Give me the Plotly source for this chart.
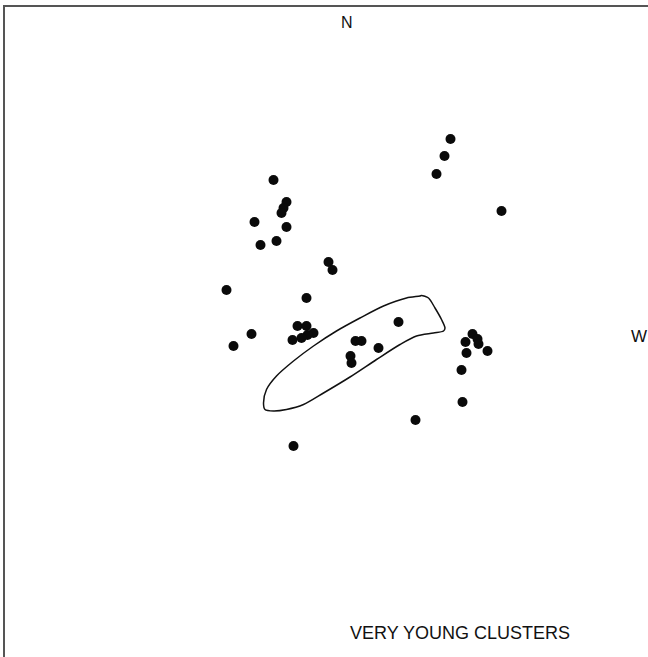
import plotly.graph_objects as go

# Cluster positions (arbitrary sky units, x grows toward W, y toward N)
cluster_x = [-5.3, -4.0, -4.3, -4.5, -7.2, -4.0, -6.6, -5.0, 0.2, 0.6,
             -10.0, -2.0, -7.5, -9.3, -2.9, -2.0, -1.3, -1.9, -2.5, -3.4,
             7.2, 2.9, 3.5, 5.2, 2.4, 2.5, 14.6, 15.1, 15.2, 13.9,
             16.1, 14.0, 13.5, 13.6, 12.4, 11.8, 11.0, 17.5, 8.9, -3.3]
cluster_y = [15.2, 13.0, 12.4, 11.9, 11.0, 10.5, 8.7, 9.1, 7.0, 6.2,
             4.2, 3.4, -0.2, -1.4, 0.6, 0.6, -0.1, -0.3, -0.6, -0.8,
             1.0, -0.9, -0.9, -1.6, -2.4, -3.1, -0.2, -0.7, -1.2, -1.0,
             -1.9, -2.1, -3.8, -7.0, 19.3, 17.6, 15.8, 12.1, -8.8, -11.4]

# Outline of the elongated region
outline_x = [9.5, 10.2, 10.85, 11.5, 11.85, 11.7, 10.7, 9.0, 7.35, 5.0,
             2.35, -0.3, -2.3, -4.0, -5.3, -6.15, -6.3, -6.0, -5.0, -3.3,
             -1.3, 1.0, 3.35, 5.7, 8.0, 9.35, 9.5]
outline_y = [3.65, 3.4, 2.4, 1.25, 0.4, 0.1, -0.1, -0.4, -1.25, -2.75,
             -4.5, -6.1, -7.25, -7.75, -7.9, -7.75, -7.1, -5.75, -4.4, -2.9,
             -1.4, 0.1, 1.4, 2.6, 3.4, 3.6, 3.65]

X_RANGE = [-32.15, 32.15]
Y_RANGE = [-32.5, 32.5]

fig = go.Figure()
fig.add_trace(go.Scatter(
    x=outline_x, y=outline_y, mode="lines",
    line=dict(color="#111111", width=1.5, shape="spline", smoothing=0.8),
    hoverinfo="skip", showlegend=False,
))
fig.add_trace(go.Scatter(
    x=cluster_x, y=cluster_y, mode="markers",
    marker=dict(color="#0a0a0a", size=10, line=dict(width=0)),
    showlegend=False,
))

font = "Liberation Sans, Arial, Helvetica, sans-serif"
fig.add_annotation(x=2.0, y=31.0, text="N", showarrow=False,
                   font=dict(family=font, size=16, color="#111111"))
fig.add_annotation(x=31.25, y=-0.4, text="W", showarrow=False,
                   font=dict(family=font, size=17, color="#111111"))
fig.add_annotation(x=13.35, y=-30.1, text="VERY YOUNG CLUSTERS", showarrow=False,
                   font=dict(family=font, size=18, color="#111111"))

axis_common = dict(showgrid=False, zeroline=False, showticklabels=False,
                   ticks="", showline=True, linecolor="#555555", linewidth=2)
fig.update_xaxes(range=X_RANGE, side="top", **axis_common)
fig.update_yaxes(range=Y_RANGE, side="left", **axis_common)

fig.update_layout(
    width=648, height=657,
    margin=dict(l=5, r=0, t=7, b=0),
    paper_bgcolor="white", plot_bgcolor="white",
)

fig.write_html("out.html")
